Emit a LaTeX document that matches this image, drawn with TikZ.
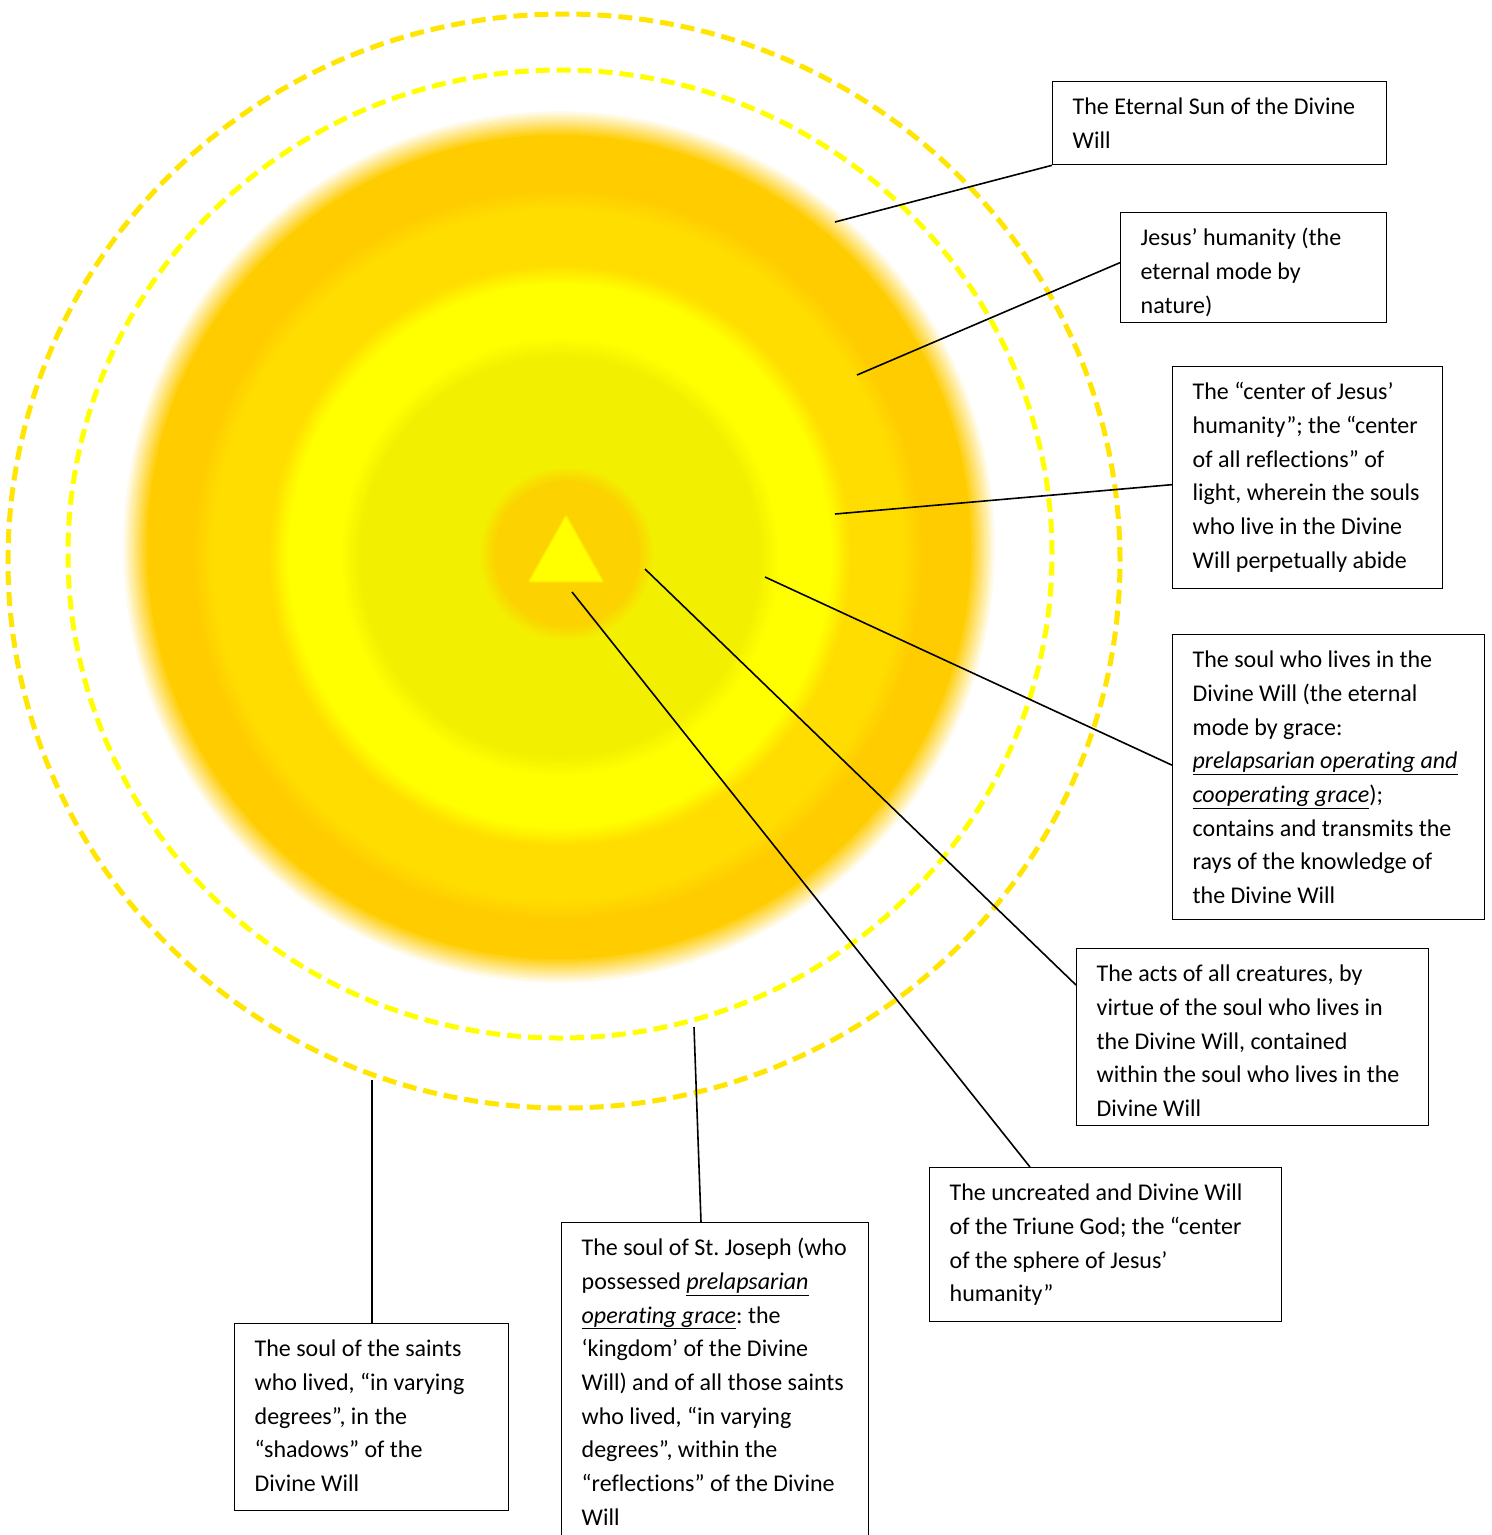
\documentclass[tikz,border=0pt]{standalone}
\usepackage{fontspec}
\setmainfont{Carlito}[Ligatures=CommonOff]
\usetikzlibrary{calc,positioning}
\definecolor{sunorange}{HTML}{FFCC00}
\definecolor{sungold}{HTML}{FFDD00}
\definecolor{sunyellow}{HTML}{FFFF00}
\definecolor{sunlemon}{HTML}{F3EF00}
\definecolor{suncore}{HTML}{FCD200}
\definecolor{ringouter}{HTML}{FFE500}
\newcommand{\softring}[5]{%
  \foreach \k in {0,...,12}{%
    \pgfmathsetmacro\rr{#2+#3-2*#3*\k/12}%
    \pgfmathtruncatemacro\pc{100*\k/12}%
    \fill[#5!\pc!#4] (#1) circle[radius=\rr pt];}}
\newcommand{\boxtext}[3]{\parbox[t][#2][t]{#1}{\frenchspacing\raggedright\strut #3}}

\begin{document}
\begin{tikzpicture}[x=1pt, y=-1pt,
    note/.style={draw, line width=1.3pt, anchor=north west, inner xsep=20pt, inner ysep=9.5pt,
                 font=\fontsize{24}{33.7}\selectfont},
    link/.style={line width=1.6pt},
    halo/.style={dash pattern=on 14pt off 7pt, line width=5pt}]
\useasboundingbox (0,0) rectangle (1492,1535);

% the sun
\softring{559,547}{425}{13}{white}{sunorange}
\softring{558,555}{356}{10}{sunorange}{sungold}
\softring{560,556}{282}{10}{sungold}{sunyellow}
\softring{560,557}{210}{10}{sunyellow}{sunlemon}
\softring{567,554}{80}{8}{sunlemon}{suncore}
\draw[sunyellow!55!suncore, line width=3pt, line join=round, fill=sunyellow]
  (530,581) -- (602,581) -- (566,517) -- cycle;
\fill[sunyellow] (530,581) -- (602,581) -- (566,517) -- cycle;

\draw[halo, ringouter] (564,561) ellipse[x radius=556pt, y radius=547pt];
\draw[halo, sunyellow] (560,554) ellipse[x radius=492pt, y radius=484pt];

\node[note] (sun) at (1052,81) {\boxtext{294pt}{64pt}{The Eternal Sun of the Divine\\Will}};
\node[note] (hum) at (1120,212) {\boxtext{226pt}{91pt}{Jesus’ humanity (the\\eternal mode by\\nature)}};
\node[note] (ctr) at (1172,366) {\boxtext{230pt}{203pt}{The “center of Jesus’\\humanity”; the “center\\of all reflections” of\\light, wherein the souls\\who live in the Divine\\Will perpetually abide}};
\node[note] (soul) at (1172,634) {\boxtext{272pt}{266pt}{The soul who lives in the\\Divine Will (the eternal\\mode by grace:\\\underline{\textit{prelapsarian operating and}}\\\underline{\textit{cooperating grace}});\\contains and transmits the\\rays of the knowledge of\\the Divine Will}};
\node[note] (acts) at (1076,948) {\boxtext{312pt}{158pt}{The acts of all creatures, by\\virtue of the soul who lives in\\the Divine Will, contained\\within the soul who lives in the\\Divine Will}};
\node[note] (triune) at (929,1167) {\boxtext{312pt}{135pt}{The uncreated and Divine Will\\of the Triune God; the “center\\of the sphere of Jesus’\\humanity”}};
\node[note] (joseph) at (561,1222) {\boxtext{267pt}{321pt}{The soul of St. Joseph (who\\possessed \underline{\textit{prelapsarian}}\\\underline{\textit{operating grace}}: the\\‘kingdom’ of the Divine\\Will) and of all those saints\\who lived, “in varying\\degrees”, within the\\“reflections” of the Divine\\Will}};
\node[note] (saints) at (234,1323) {\boxtext{234pt}{168pt}{The soul of the saints\\who lived, “in varying\\degrees”, in the\\“shadows” of the\\Divine Will}};

\coordinate (sunpt) at (835,222);
\coordinate (humpt) at (857,375);
\coordinate (ctrpt) at (835,514);
\coordinate (soulpt) at (765,577);
\coordinate (actspt) at (645,569);
\coordinate (triunept) at (572,592);
\coordinate (josephpt) at (694,1027);
\coordinate (saintspt) at (372,1080);

\draw[link] (sunpt) -- (sun.south west);
\draw[link] (humpt) -- ([yshift=5pt]hum.west);
\draw[link] (ctrpt) -- ([yshift=-7pt]ctr.west);
\draw[link] (soulpt) -- ([yshift=12pt]soul.west);
\draw[link] (actspt) -- ([yshift=-37pt]acts.north west);
\draw[link] (triunept) -- ([xshift=101pt]triune.north west);
\draw[link] (josephpt) -- ([xshift=140pt]joseph.north west);
\draw[link] (saintspt) -- ([xshift=138pt]saints.north west);
\end{tikzpicture}
\end{document}
